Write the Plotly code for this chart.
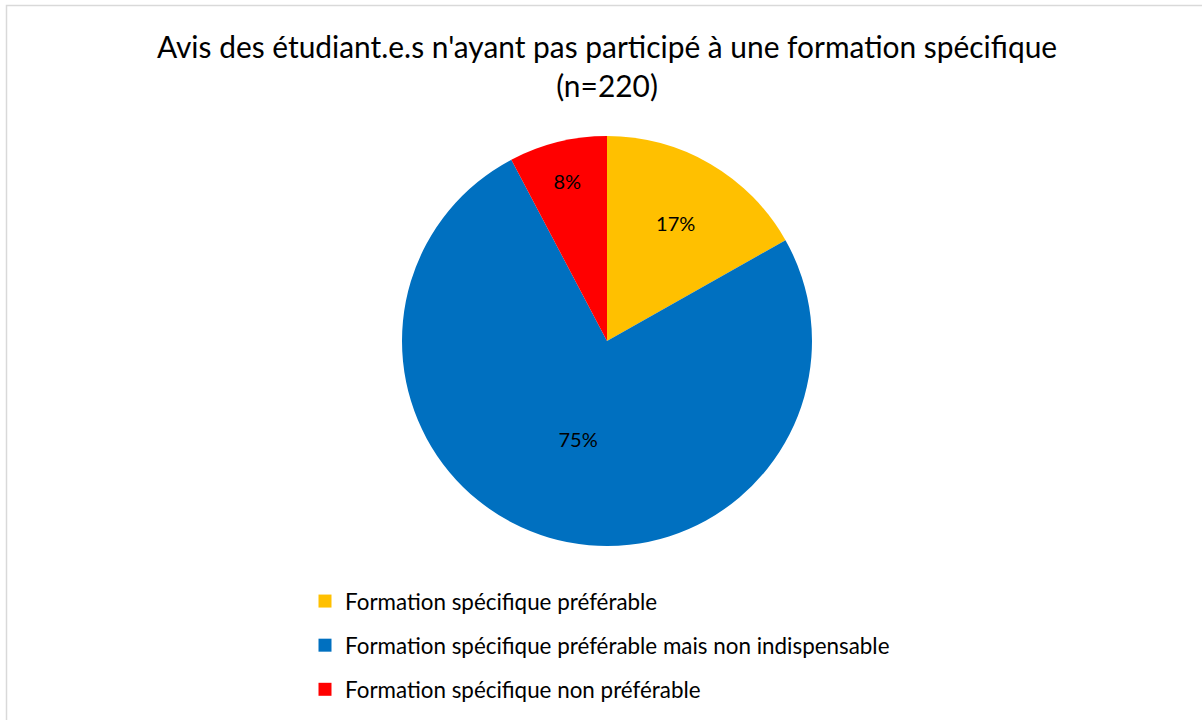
import plotly.graph_objects as go

# data
labels = [
    "Formation spécifique préférable",
    "Formation spécifique préférable mais non indispensable",
    "Formation spécifique non préférable",
]
counts = [37, 166, 17]  # n=220
colors = ["#FFC000", "#0070C0", "#FF0000"]

_FONT = "Lato, sans-serif"
W, H = 1202, 720
cx, cy, r = 607, 341, 205

fig = go.Figure(go.Pie(
    labels=labels,
    values=counts,
    sort=False,
    direction="clockwise",
    rotation=0,
    marker=dict(colors=colors, line=dict(width=0)),
    texttemplate="%{percent:.0%}",
    textposition="inside",
    insidetextorientation="horizontal",
    textfont=dict(family=_FONT, size=20, color="#000000"),
    domain=dict(x=[(cx - r) / W, (cx + r) / W], y=[(H - cy - r) / H, (H - cy + r) / H]),
    hovertemplate="%{label}: %{value} (%{percent})<extra></extra>",
    showlegend=False,
))

# legend entries (one per category, spaced like the Excel legend)
for i, (lab, col) in enumerate(zip(labels, colors)):
    fig.add_trace(go.Scatter(
        x=[None], y=[None],
        mode="markers",
        name=lab,
        legendgroup=f"g{i}",
        marker=dict(symbol="square", size=13, color=col, line=dict(width=0)),
        hoverinfo="skip",
    ))

fig.update_layout(
    width=W,
    height=H,
    paper_bgcolor="white",
    plot_bgcolor="white",
    margin=dict(l=0, r=0, t=0, b=0),
    font=dict(family=_FONT, color="#000000"),
    xaxis=dict(visible=False),
    yaxis=dict(visible=False),
    title=dict(
        text="Avis des étudiant.e.s n'ayant pas participé à une formation spécifique<br>(n=220)",
        x=607 / W, xanchor="center",
        y=1 - 58 / H, yanchor="top",
        font=dict(family=_FONT, size=29.9, color="#000000"),
    ),
    showlegend=True,
    legend=dict(
        x=305 / W, xanchor="left",
        y=1 - 580 / H, yanchor="top",
        bgcolor="rgba(0,0,0,0)",
        font=dict(family=_FONT, size=22.4, color="#000000"),
        itemclick=False,
        itemwidth=30,
        tracegroupgap=12,
    ),
    shapes=[dict(
        type="rect", xref="paper", yref="paper",
        x0=6.5 / W, y0=-0.05, x1=1.05, y1=1 - 5.5 / H,
        line=dict(color="#D9D9D9", width=1.5),
        fillcolor="rgba(0,0,0,0)",
    )],
)

fig.write_html(
    "out.html",
    config={"displayModeBar": False},
    post_script="document.body.style.margin='0';",
)
